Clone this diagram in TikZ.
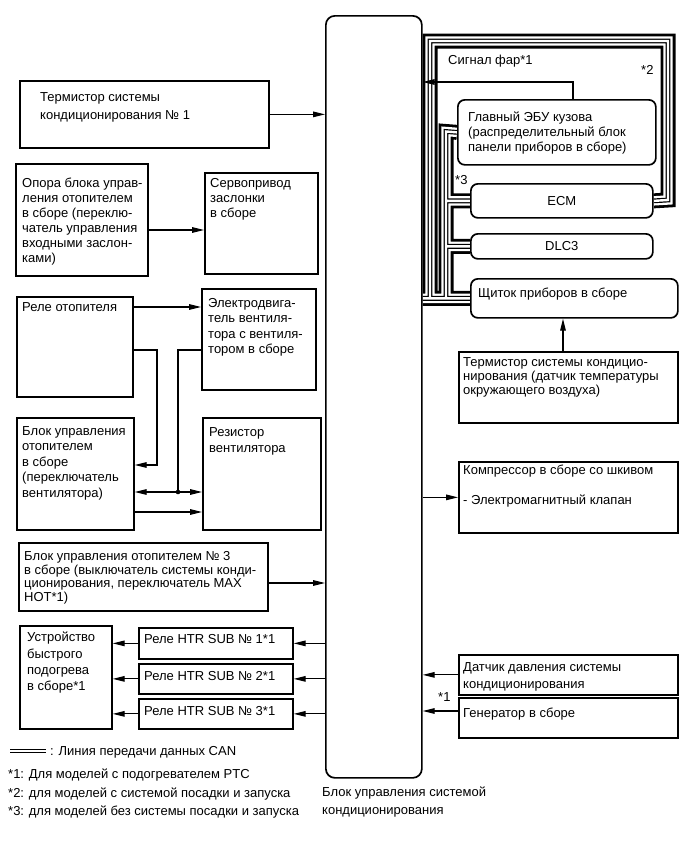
\documentclass[tikz,border=0pt]{standalone}
\usepackage{fontspec}
\setmainfont{Liberation Sans}
\usetikzlibrary{arrows.meta,calc,backgrounds}
\begin{document}
\begin{tikzpicture}[x=1pt,y=-1pt,
  blk/.style={draw, line width=1.7pt, fill=white, inner sep=0pt, anchor=north west},
  rblk/.style={blk, rounded corners=7pt},
  txt/.style={inner sep=0pt, anchor=north west, align=left, font=\fontsize{13}{15.5}\selectfont},
  arr/.style={draw, line width=1.1pt, -{Triangle[length=12pt,width=5.6pt]}},
  arrb/.style={draw, line width=1.1pt, {Triangle[length=12pt,width=5.6pt]}-{Triangle[length=12pt,width=5.6pt]}}]
\useasboundingbox (0,0) rectangle (690,855);

% central unit
\node[rblk, rounded corners=9pt, minimum width=96pt, minimum height=762pt] (cbox) at (325,15) {};
\node[txt, font=\fontsize{13}{18}\selectfont] (cboxl) at (322,787) {Блок управления системой\\кондиционирования};

% left side
\node[blk, minimum width=249pt, minimum height=67pt] (term1) at (19,80) {};
\node[txt, font=\fontsize{13}{18}\selectfont] (term1t) at (40,92) {Термистор системы\\кондиционирования № 1};

\node[blk, minimum width=132pt, minimum height=112pt] (opora) at (15,163) {};
\node[txt, font=\fontsize{13}{15}\selectfont] (oporat) at (22,178) {Опора блока управ-\\ления отопителем\\в сборе (переклю-\\чатель управления\\входными заслон-\\ками)};
\node[blk, minimum width=113pt, minimum height=101pt] (servo) at (204,172) {};
\node[txt, font=\fontsize{13}{15}\selectfont] (servot) at (210,178) {Сервопривод\\заслонки\\в сборе};

\node[blk, minimum width=116pt, minimum height=100pt] (rele) at (16,296) {};
\node[txt] (relet) at (22,302) {Реле отопителя};
\node[blk, minimum width=114pt, minimum height=101pt] (motor) at (201,288) {};
\node[txt] (motort) at (208,298) {Электродвига-\\тель вентиля-\\тора с вентиля-\\тором в сборе};

\node[blk, minimum width=117pt, minimum height=112pt] (blok1) at (16,417) {};
\node[txt] (blok1t) at (22,426) {Блок управления\\отопителем\\в сборе\\(переключатель\\вентилятора)};
\node[blk, minimum width=118pt, minimum height=112pt] (rez) at (202,417) {};
\node[txt, font=\fontsize{13}{16}\selectfont] (rezt) at (209,427) {Резистор\\вентилятора};

\node[blk, minimum width=249pt, minimum height=68pt] (blok3) at (18,542) {};
\node[txt, font=\fontsize{13}{13.8}\selectfont] (blok3t) at (24,551) {Блок управления отопителем № 3\\в сборе (выключатель системы конди-\\ционирования, переключатель MAX\\HOT*1)};

\node[blk, minimum width=92pt, minimum height=103pt] (dev) at (19,625) {};
\node[txt, font=\fontsize{13}{16.3}\selectfont] (devt) at (27,632) {Устройство\\быстрого\\подогрева\\в сборе*1};

\node[blk, minimum width=154pt, minimum height=31pt] (r1) at (138,627) {};
\node[txt] (r1t) at (144,634) {Реле HTR SUB № 1*1};
\node[blk, minimum width=154pt, minimum height=30pt] (r2) at (138,663) {};
\node[txt] (r2t) at (144,671) {Реле HTR SUB № 2*1};
\node[blk, minimum width=154pt, minimum height=30pt] (r3) at (138,698) {};
\node[txt] (r3t) at (144,706) {Реле HTR SUB № 3*1};

% right side
\node[txt] (sigfar) at (448,55) {Сигнал фар*1};
\node[txt] (star2) at (641,65) {*2};
\node[rblk, minimum width=198pt, minimum height=65pt] (gecu) at (457,99) {};
\node[txt, font=\fontsize{13}{15}\selectfont] (gecut) at (468,112) {Главный ЭБУ кузова\\(распределительный блок\\панели приборов в сборе)};
\node[txt] (star3) at (455,175) {*3};
\node[rblk, minimum width=182pt, minimum height=34pt, font=\fontsize{13}{15.5}\selectfont] (ecm) at (470,183) {ECM};
\node[rblk, minimum width=182pt, minimum height=25pt, font=\fontsize{13}{15.5}\selectfont] (dlc) at (470,233) {DLC3};
\node[rblk, minimum width=207pt, minimum height=39pt] (shch) at (470,278) {};
\node[txt] (shcht) at (478,288) {Щиток приборов в сборе};

\node[blk, minimum width=219pt, minimum height=71pt] (amb) at (458,351) {};
\node[txt, font=\fontsize{13}{14}\selectfont] (ambt) at (463,357) {Термистор системы кондицио-\\нирования (датчик температуры\\окружающего воздуха)};

\node[blk, minimum width=219pt, minimum height=71pt] (comp) at (458,461) {};
\node[txt, font=\fontsize{13}{15.5}\selectfont] (compt) at (463,465) {Компрессор в сборе со шкивом\\[14.5pt]- Электромагнитный клапан};

\node[blk, minimum width=219pt, minimum height=40pt] (press) at (458,654) {};
\node[txt, font=\fontsize{13}{17}\selectfont] (presst) at (463,662) {Датчик давления системы\\кондиционирования};
\node[blk, minimum width=219pt, minimum height=40pt] (gen) at (458,697) {};
\node[txt] (gent) at (463,708) {Генератор в сборе};
\node[txt] (star1) at (438,692) {*1};

% legend
\coordinate (lg1) at (10,751);
\coordinate (lg2) at (46,751);
\draw[line width=1.3pt, double, double distance=2.2pt] (lg1) -- (lg2);
\node[txt] (legt) at (50,746) {: Линия передачи данных CAN};
\node[txt] (fn1) at (8,769) {*1: Для моделей с подогревателем PTC};
\node[txt] (fn2) at (8,788) {*2: для моделей с системой посадки и запуска};
\node[txt] (fn3) at (8,806) {*3: для моделей без системы посадки и запуска};

% CAN bus
\coordinate (cr1) at (668,200);
\coordinate (cr2) at (668,41);
\coordinate (cr3) at (430,41);
\coordinate (cr4) at (430,297.5);
\coordinate (ci1) at (446,131.5);
\coordinate (ci2) at (446,297.5);
\begin{pgfonlayer}{background}
\fill[white] (0,0) rectangle (690,855);
\foreach \w/\c in {15/black, 9.4/white, 4.8/black, 2.4/white}{
  \draw[line width=\w pt, draw=\c, line join=miter]
    (shch.west -| cbox.east) -- (shch.west)
    (ecm.east) -- (cr1) -- (cr2) -- (cr3) -- (cr4)
    (gecu.west) -- (ci1) -- (ci2)
    (ecm.west -| ci1) -- (ecm.west)
    (dlc.west -| ci1) -- (dlc.west);
}
\end{pgfonlayer}

% connectors left
\draw[arr] (term1.east) -- (term1.east -| cbox.west);
\coordinate (oa) at ($(opora.north east)+(0,67)$);
\draw[arr] (oa) -- (oa -| servo.west);
\coordinate (ra) at ($(rele.north east)+(0,11)$);
\draw[arr] (ra) -- (ra -| motor.west);
\coordinate (rb) at ($(rele.north east)+(0,54)$);
\coordinate (rbx) at (157,465);
\draw[arr] (rb) -- (rb -| rbx) -- (rbx) -- (rbx -| blok1.east);
\coordinate (dot) at (178,492);
\coordinate (mb) at ($(motor.north west)+(0,62)$);
\draw[line width=1.1pt] (mb) -- (mb -| dot) -- (dot);
\draw[arrb] (dot -| blok1.east) -- (dot -| rez.west);
\fill (dot) circle (2.3pt);
\coordinate (bb) at (140,512);
\draw[arr] (bb -| blok1.east) -- (bb -| rez.west);
\coordinate (b3) at ($(blok3.north east)+(0,41)$);
\draw[arr] (b3) -- (b3 -| cbox.west);
\foreach \r in {r1,r2,r3}{
  \draw[arr] (\r.east -| cbox.west) -- (\r.east);
  \draw[arr] (\r.west) -- (\r.west -| dev.east);
}

% connectors right
\coordinate (sf) at (573,82);
\draw[arr] (gecu.north -| sf) -- (sf) -- (sf -| cbox.east);
\coordinate (am) at (563,351);
\draw[arr] (am) -- (am |- shch.south);
\draw[arr] (comp.west -| cbox.east) -- (comp.west);
\draw[arr] (press.west) -- (press.west -| cbox.east);
\coordinate (ga) at ($(gen.north west)+(0,14)$);
\draw[arr] (ga) -- (ga -| cbox.east);
\end{tikzpicture}
\end{document}
